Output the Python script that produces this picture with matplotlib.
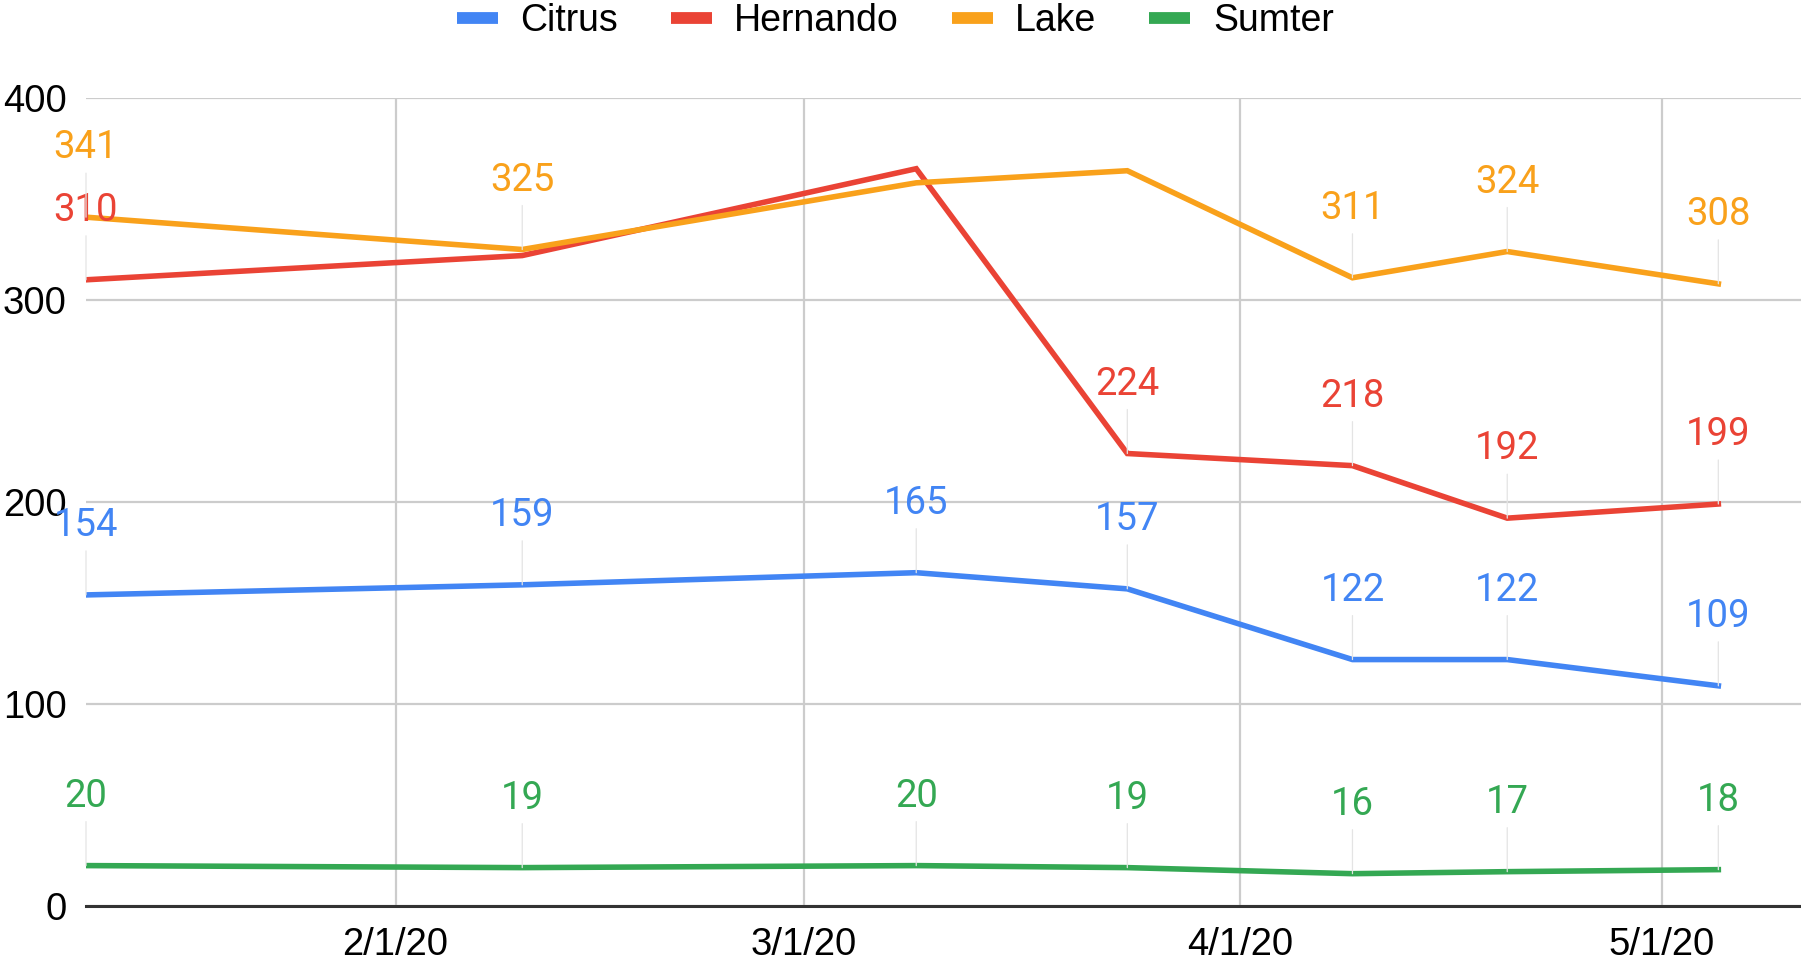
import matplotlib
matplotlib.use("Agg")
import matplotlib.pyplot as plt
import matplotlib.dates as mdates
from matplotlib.lines import Line2D
import pandas as pd

dates = pd.to_datetime(["2020-01-10", "2020-02-10", "2020-03-09", "2020-03-24",
                        "2020-04-09", "2020-04-20", "2020-05-05"])
citrus = [154, 159, 165, 157, 122, 122, 109]
hernando = [310, 322, 365, 224, 218, 192, 199]
lake = [341, 325, 358, 364, 311, 324, 308]
sumter = [20, 19, 20, 19, 16, 17, 18]

series = ["Citrus", "Hernando", "Lake", "Sumter"]
values = [citrus, hernando, lake, sumter]
colors = ["#4285f4", "#ea4335", "#f9a11b", "#34a853"]

# labels the chart hides because they collide (series index, point index)
hidden = {(1, 1), (1, 2), (2, 2), (2, 3)}

fig = plt.figure(figsize=(18.01, 9.64), dpi=100)
ax = fig.add_axes([86 / 1801, 1 - 906 / 964, 1 - 86 / 1801, (906 - 98) / 964])

for i, (name, vals, col) in enumerate(zip(series, values, colors)):
    ax.plot(dates, vals, color=col, lw=4.0, zorder=3, solid_joinstyle="miter")
    for j, (d, v) in enumerate(zip(dates, vals)):
        if (i, j) in hidden:
            continue
        ax.annotate(str(v), xy=(d, v), xytext=(0, 50), textcoords="offset points",
                    ha="center", va="center", color=col, fontsize=27.5,
                    family="Roboto", zorder=4, annotation_clip=False,
                    arrowprops=dict(arrowstyle="-", color="#e4e4e4", lw=0.9,
                                    shrinkA=3, shrinkB=0))

ax.set_ylim(0, 400)
ax.set_xlim(pd.Timestamp("2020-01-10"), pd.Timestamp("2020-05-10 21:00"))
ax.set_yticks([0, 100, 200, 300, 400])
ax.xaxis.set_major_locator(mdates.MonthLocator(bymonth=[2, 3, 4, 5]))
ax.xaxis.set_major_formatter(mdates.DateFormatter("%-m/%-d/%y"))

ax.grid(True, color="#cccccc", lw=1.6)
ax.set_axisbelow(True)
for s in ["top", "right", "left"]:
    ax.spines[s].set_visible(False)
ax.spines["bottom"].set_color("#333333")
ax.spines["bottom"].set_linewidth(2.2)
ax.spines["bottom"].set_zorder(6)
ax.tick_params(length=0, labelsize=27.5)
ax.tick_params(axis="x", pad=15)
ax.tick_params(axis="y", pad=14)
for lab in ax.get_xticklabels() + ax.get_yticklabels():
    lab.set_family("Liberation Sans")

handles = [Line2D([], [], color=c, lw=8.5, solid_capstyle="butt") for c in colors]
fig.legend(handles, series, loc="center", bbox_to_anchor=(0.497, 1 - 21 / 964), ncol=4,
           frameon=False, prop={"family": "Liberation Sans", "size": 27},
           handlelength=1.1, handletextpad=0.6, columnspacing=1.4)

fig.savefig("out.png", dpi=100, facecolor="white")
